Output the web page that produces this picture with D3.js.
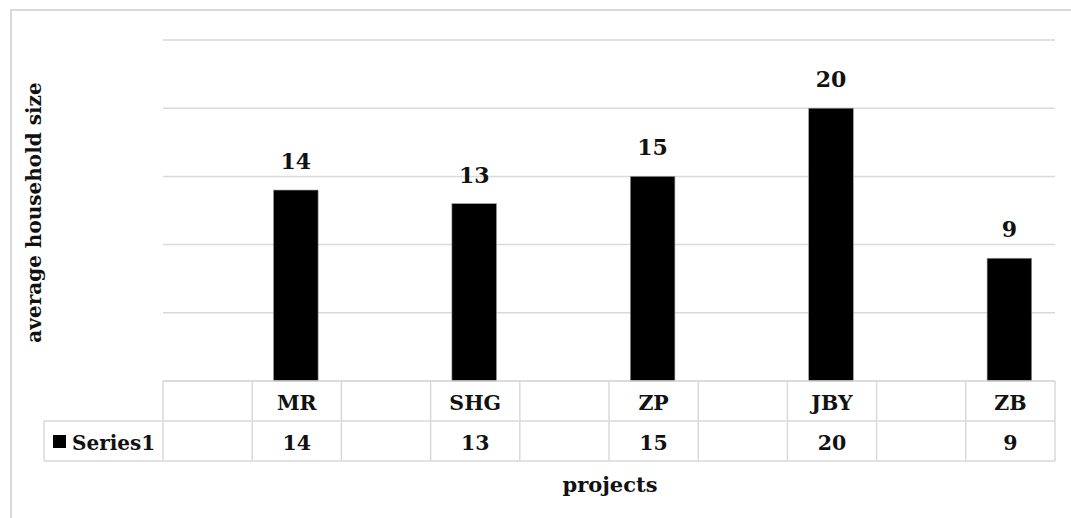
<!DOCTYPE html>
<html>
<head>
<meta charset="utf-8">
<script src="https://cdn.jsdelivr.net/npm/d3@7"></script>
<style>
  html, body { margin: 0; padding: 0; background: #fff; }
  svg { display: block; font-family: "DejaVu Serif", "Liberation Serif", serif; font-weight: bold; }
</style>
</head>
<body>
<svg id="chart" width="1071" height="518"></svg>
<script>
// Average household size by project
const projects = ["MR", "SHG", "ZP", "JBY", "ZB"];
const householdSize = [14, 13, 15, 20, 9];
const yTicks = [0, 5, 10, 15, 20, 25];
const seriesName = "Series1";

// Each project sits in its own column, preceded by an empty spacer column
const slots = projects.flatMap((p, i) => ["gap" + i, p]);

const svg = d3.select("#chart");
const grid = "#d9d9d9";

const plot = { left: 163, right: 1055, top: 40, bottom: 381 };
const rowH = 40;

const x = d3.scaleBand().domain(slots).range([plot.left, plot.right]);
const y = d3.scaleLinear().domain([0, 25]).range([plot.bottom, plot.top]);

// outer frame
svg.append("path")
  .attr("d", "M11,518 V10 H1071")
  .attr("fill", "none").attr("stroke", grid).attr("stroke-width", 2);

// horizontal gridlines
svg.append("g").selectAll("line").data(yTicks).join("line")
  .attr("x1", plot.left).attr("x2", plot.right)
  .attr("y1", d => y(d)).attr("y2", d => y(d))
  .attr("stroke", grid).attr("stroke-width", 1.5);

// bars
const bw = x.bandwidth() * 0.5;
svg.append("g").selectAll("rect").data(projects).join("rect")
  .attr("x", d => x(d) + (x.bandwidth() - bw) / 2 - 1)
  .attr("width", bw)
  .attr("y", (d, i) => y(householdSize[i]))
  .attr("height", (d, i) => y(0) - y(householdSize[i]))
  .attr("fill", "#000")
  .attr("stroke", "#9a9a9a").attr("stroke-width", 0.6);

// value labels
svg.append("g").selectAll("text").data(projects).join("text")
  .attr("x", d => x(d) + x.bandwidth() / 2 - 1)
  .attr("y", (d, i) => y(householdSize[i]) - 21)
  .attr("text-anchor", "middle")
  .attr("font-size", 22)
  .attr("fill", "#111")
  .text((d, i) => householdSize[i]);

// data table
const table = svg.append("g").attr("stroke", grid).attr("stroke-width", 1.5);
const r0 = plot.bottom, r1 = r0 + rowH, r2 = r1 + rowH;
const legendLeft = 44;
table.append("line").attr("x1", plot.left).attr("x2", plot.right).attr("y1", r0).attr("y2", r0);
table.append("line").attr("x1", legendLeft).attr("x2", plot.right).attr("y1", r1).attr("y2", r1);
table.append("line").attr("x1", legendLeft).attr("x2", plot.right).attr("y1", r2).attr("y2", r2);
table.append("line").attr("x1", legendLeft).attr("x2", legendLeft).attr("y1", r1).attr("y2", r2);
const colEdges = slots.map(s => x(s)).concat([plot.right]);
table.selectAll("line.col").data(colEdges).join("line").attr("class", "col")
  .attr("x1", d => d).attr("x2", d => d).attr("y1", r0).attr("y2", r2);

// table header (category names)
svg.append("g").selectAll("text").data(projects).join("text")
  .attr("x", d => x(d) + x.bandwidth() / 2)
  .attr("y", (r0 + r1) / 2 + 9)
  .attr("text-anchor", "middle")
  .attr("font-size", 20.5)
  .attr("fill", "#111")
  .text(d => d);

// table values
svg.append("g").selectAll("text").data(projects).join("text")
  .attr("x", d => x(d) + x.bandwidth() / 2)
  .attr("y", (r1 + r2) / 2 + 9)
  .attr("text-anchor", "middle")
  .attr("font-size", 20.5)
  .attr("fill", "#111")
  .text((d, i) => householdSize[i]);

// legend key + series name
svg.append("rect")
  .attr("x", 53).attr("y", (r1 + r2) / 2 - 6).attr("width", 13).attr("height", 13)
  .attr("fill", "#000");
svg.append("text")
  .attr("x", 72).attr("y", (r1 + r2) / 2 + 9)
  .attr("font-size", 20).attr("fill", "#111")
  .text(seriesName);

// axis titles
svg.append("text")
  .attr("transform", `translate(41, ${(plot.top + plot.bottom) / 2 + 2}) rotate(-90)`)
  .attr("text-anchor", "middle")
  .attr("font-size", 20).attr("fill", "#111")
  .text("average household size");

svg.append("text")
  .attr("x", 610).attr("y", 492)
  .attr("text-anchor", "middle")
  .attr("font-size", 21).attr("fill", "#111")
  .text("projects");
</script>
</body>
</html>
